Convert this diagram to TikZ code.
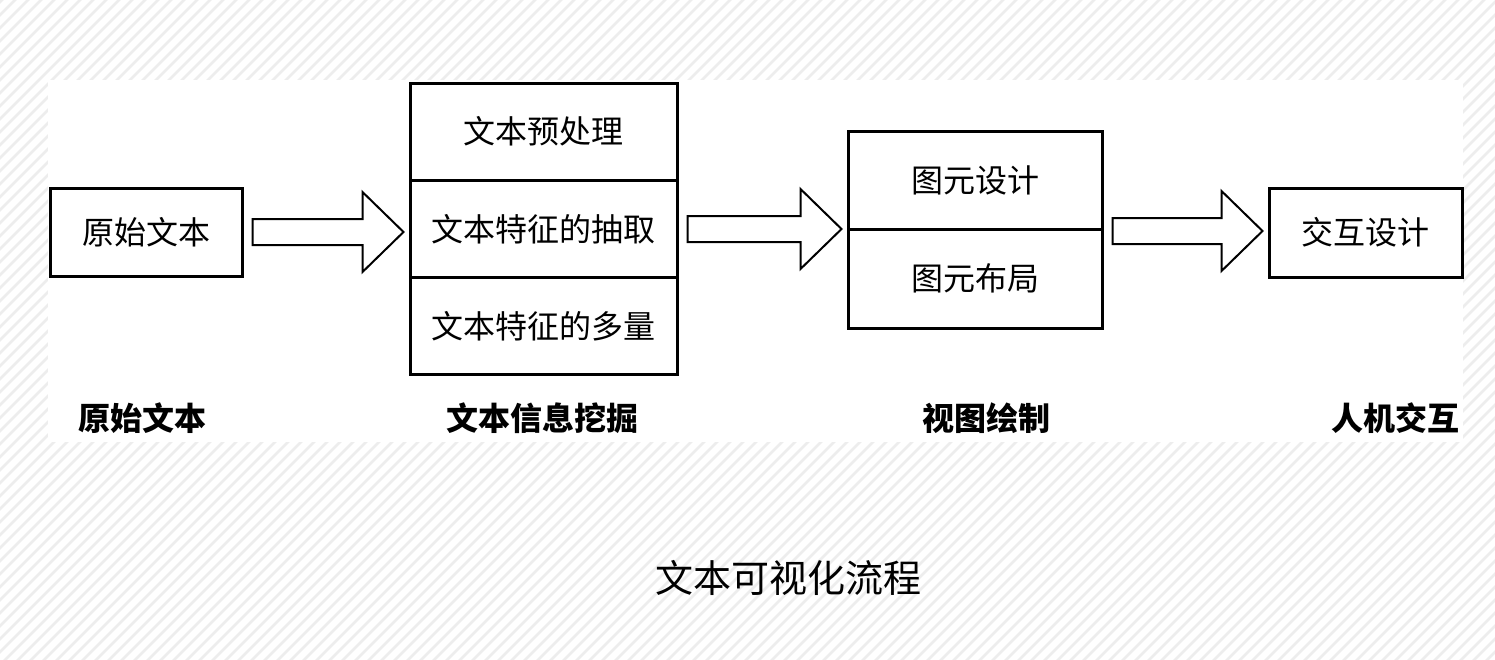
\documentclass[tikz,border=0pt]{standalone}
\usepackage{fontspec}
\newfontfamily\cjk{Noto Sans CJK SC}
\usetikzlibrary{calc}
\tikzset{
  box/.style={draw=black, line width=3pt, fill=white, inner sep=0pt, font=\cjk\fontsize{32}{38}\selectfont},
  stagelabel/.style={inner sep=0pt, font=\cjk\bfseries\fontsize{32}{38}\selectfont},
  titlelabel/.style={inner sep=0pt, font=\cjk\fontsize{38}{44}\selectfont},
  blockarr/.style={draw=black, line width=2pt, fill=white, line join=miter},
  stripe/.style={draw=black!7, line width=2.6pt}
}
\newcommand{\blockarrow}[2]{%
  \draw[blockarr] let \p1=($(#1)+(9,0)$), \p2=($(#2)+(-5,0)$) in
    (\x1,\y1+13pt) -- (\x2-41pt,\y1+13pt) -- (\x2-41pt,\y1+40pt) -- (\x2,\y1)
    -- (\x2-41pt,\y1-40pt) -- (\x2-41pt,\y1-13pt) -- (\x1,\y1-13pt) -- cycle;}
\begin{document}
\begin{tikzpicture}[x=1pt,y=-1pt]
\useasboundingbox (0,0) rectangle (1495,659);
\fill[white] (0,0) rectangle (1495,659);
\begin{scope}
  \clip (0,0) rectangle (1495,659);
  \foreach \i in {-676,-663,...,1500} {
    \draw[stripe] (\i,665) -- (\i+671,-6);
  }
\end{scope}
\fill[white] (48,80) rectangle (1463,442);

% boxes
\node[box, minimum width=192, minimum height=88] (b1) at (146,232) {原始文本};
\node[box, minimum width=267, minimum height=97.3] (b2a) at (543.5,131.7) {文本预处理};
\node[box, minimum width=267, minimum height=97.3] (b2b) at (543.5,229) {文本特征的抽取};
\node[box, minimum width=267, minimum height=97.3] (b2c) at (543.5,326.3) {文本特征的多量};
\node[box, minimum width=254, minimum height=98.5] (b3a) at (975,180.25) {图元设计};
\node[box, minimum width=254, minimum height=98.5] (b3b) at (975,278.75) {图元布局};
\node[box, minimum width=193, minimum height=89] (b4) at (1365.5,232.5) {交互设计};

% arrow end points
\coordinate (a1s) at (b1.east);
\coordinate (a1e) at (b2b.west);
\coordinate (a2s) at (b2b.east);
\coordinate (a2e) at (b3a.south west);
\coordinate (a3s) at (b3a.south east);
\coordinate (a3e) at (b4.west);

% block arrows
\blockarrow{a1s}{a1e}
\blockarrow{a2s}{a2e}
\blockarrow{a3s}{a3e}

% stage labels
\node[stagelabel] (l1) at (142,418) {原始文本};
\node[stagelabel] (l2) at (542.5,418) {文本信息挖掘};
\node[stagelabel] (l3) at (986,418) {视图绘制};
\node[stagelabel] (l4) at (1395,418) {人机交互};

% title
\node[titlelabel] (title) at (788.5,578) {文本可视化流程};
\end{tikzpicture}
\end{document}
